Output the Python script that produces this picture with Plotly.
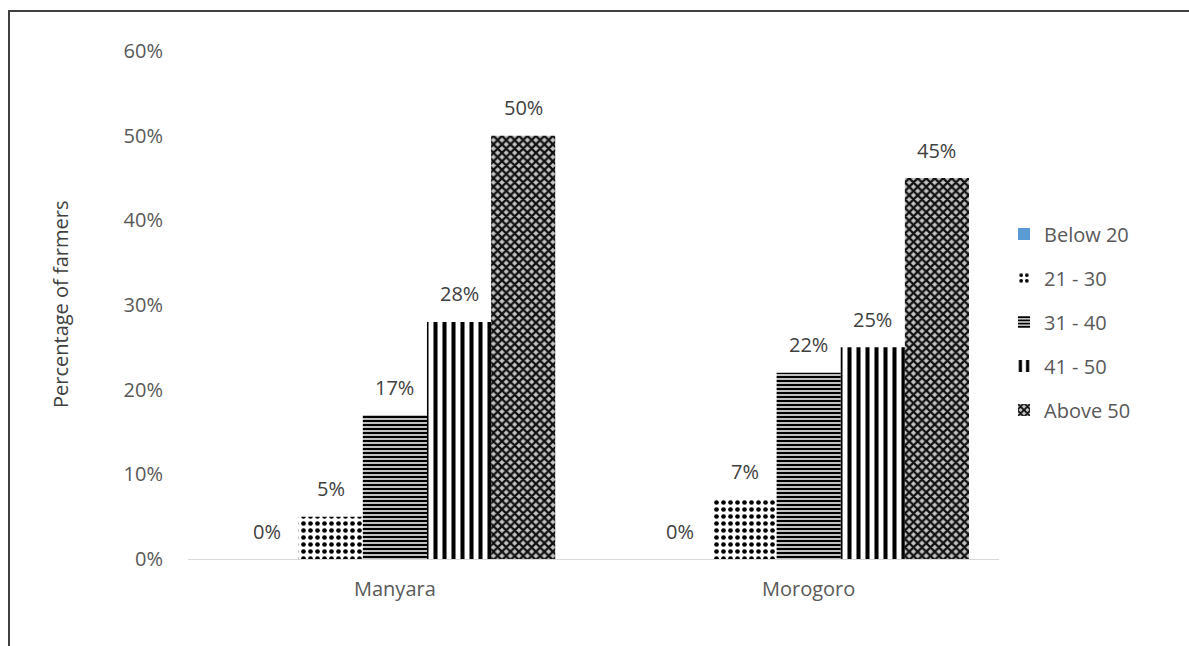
import plotly.graph_objects as go

regions = ["Manyara", "Morogoro"]
age_groups = ["Below 20", "21 - 30", "31 - 40", "41 - 50", "Above 50"]
share_manyara = [0, 5, 17, 28, 50]
share_morogoro = [0, 7, 22, 25, 45]

# per-series fill: solid blue, then black-and-white hatch patterns
styles = [
    dict(color="#5B9BD5", pattern=dict(shape="")),
    dict(color="white", pattern=dict(shape=".", fgcolor="black", bgcolor="white",
                                     size=7, solidity=0.35, fillmode="replace",
                                     fgopacity=1)),
    dict(color="#C0C0C0", pattern=dict(shape="-", fgcolor="black", bgcolor="#C0C0C0",
                                       size=4, solidity=0.5, fillmode="replace",
                                       fgopacity=1)),
    dict(color="white", pattern=dict(shape="|", fgcolor="black", bgcolor="white",
                                     size=9, solidity=0.45, fillmode="replace",
                                     fgopacity=1)),
    dict(color="#B0B0B0", pattern=dict(shape="x", fgcolor="#111111", bgcolor="#C4C4C4",
                                       size=6, solidity=0.62, fillmode="replace",
                                       fgopacity=1)),
]

FONT = "Open Sans"
TXT = "#595959"
FS = 20

L, R, T, B = 188, 190, 51, 87
W, H = 1189, 646
pw, ph = W - L - R, H - T - B

X_RANGE = [-0.5, 1.46]
BARGAP = 0.225
px_per_unit = pw / (X_RANGE[1] - X_RANGE[0])
bar_w = (1 - BARGAP) / len(age_groups)

fig = go.Figure()
annotations = []
for i, name in enumerate(age_groups):
    vals = [share_manyara[i] / 100, share_morogoro[i] / 100]
    fig.add_trace(go.Bar(
        x=regions, y=vals, name=name,
        marker=dict(color=styles[i]["color"], pattern=styles[i]["pattern"],
                    line=dict(width=0)),
        legendgroup=name,
    ))
    # value labels sit above each bar of the group
    shift = (i - (len(age_groups) - 1) / 2) * bar_w * px_per_unit
    for reg, v in zip(regions, vals):
        annotations.append(dict(
            x=reg, y=v, xref="x", yref="y", text=f"{v:.0%}",
            showarrow=False, xshift=shift, yshift=28,
            xanchor="center", yanchor="middle",
            font=dict(family=FONT, size=FS, color="#404040"),
        ))

annotations.append(dict(
    text="Percentage of farmers", textangle=-90,
    x=(60 - L) / pw, xref="paper", y=0.5, yref="paper",
    xanchor="center", yanchor="middle", showarrow=False,
    font=dict(family=FONT, size=FS, color="#404040"),
))

fig.update_layout(
    width=W, height=H,
    margin=dict(l=L, r=R, t=T, b=B),
    paper_bgcolor="white", plot_bgcolor="white",
    barmode="group", bargap=BARGAP, bargroupgap=0,
    font=dict(family=FONT, size=FS, color=TXT),
    showlegend=True,
    legend=dict(x=(1004 - L) / pw, xanchor="left", y=(H - B - 322) / ph,
                yanchor="middle", traceorder="grouped", tracegroupgap=15,
                font=dict(family=FONT, size=FS, color=TXT),
                itemwidth=30, bgcolor="rgba(0,0,0,0)"),
    xaxis=dict(range=X_RANGE, showgrid=False, showline=True,
               linecolor="#D9D9D9", linewidth=1, ticks="",
               tickfont=dict(family=FONT, size=FS, color=TXT),
               ticklabelstandoff=12),
    yaxis=dict(range=[0, 0.6], dtick=0.1, tickformat=".0%", showgrid=False,
               showline=False, zeroline=False, ticks="",
               tickfont=dict(family=FONT, size=FS, color=TXT),
               ticklabelstandoff=24),
    annotations=annotations,
    shapes=[dict(
        type="rect", xref="paper", yref="paper",
        x0=(9 - L) / pw, x1=(W + 20 - L) / pw,
        y0=-(B + 20) / ph, y1=(H - B - 11) / ph,
        line=dict(color="#404040", width=2), fillcolor="rgba(0,0,0,0)",
        layer="below",
    )],
)

fig.write_html("out.html")
